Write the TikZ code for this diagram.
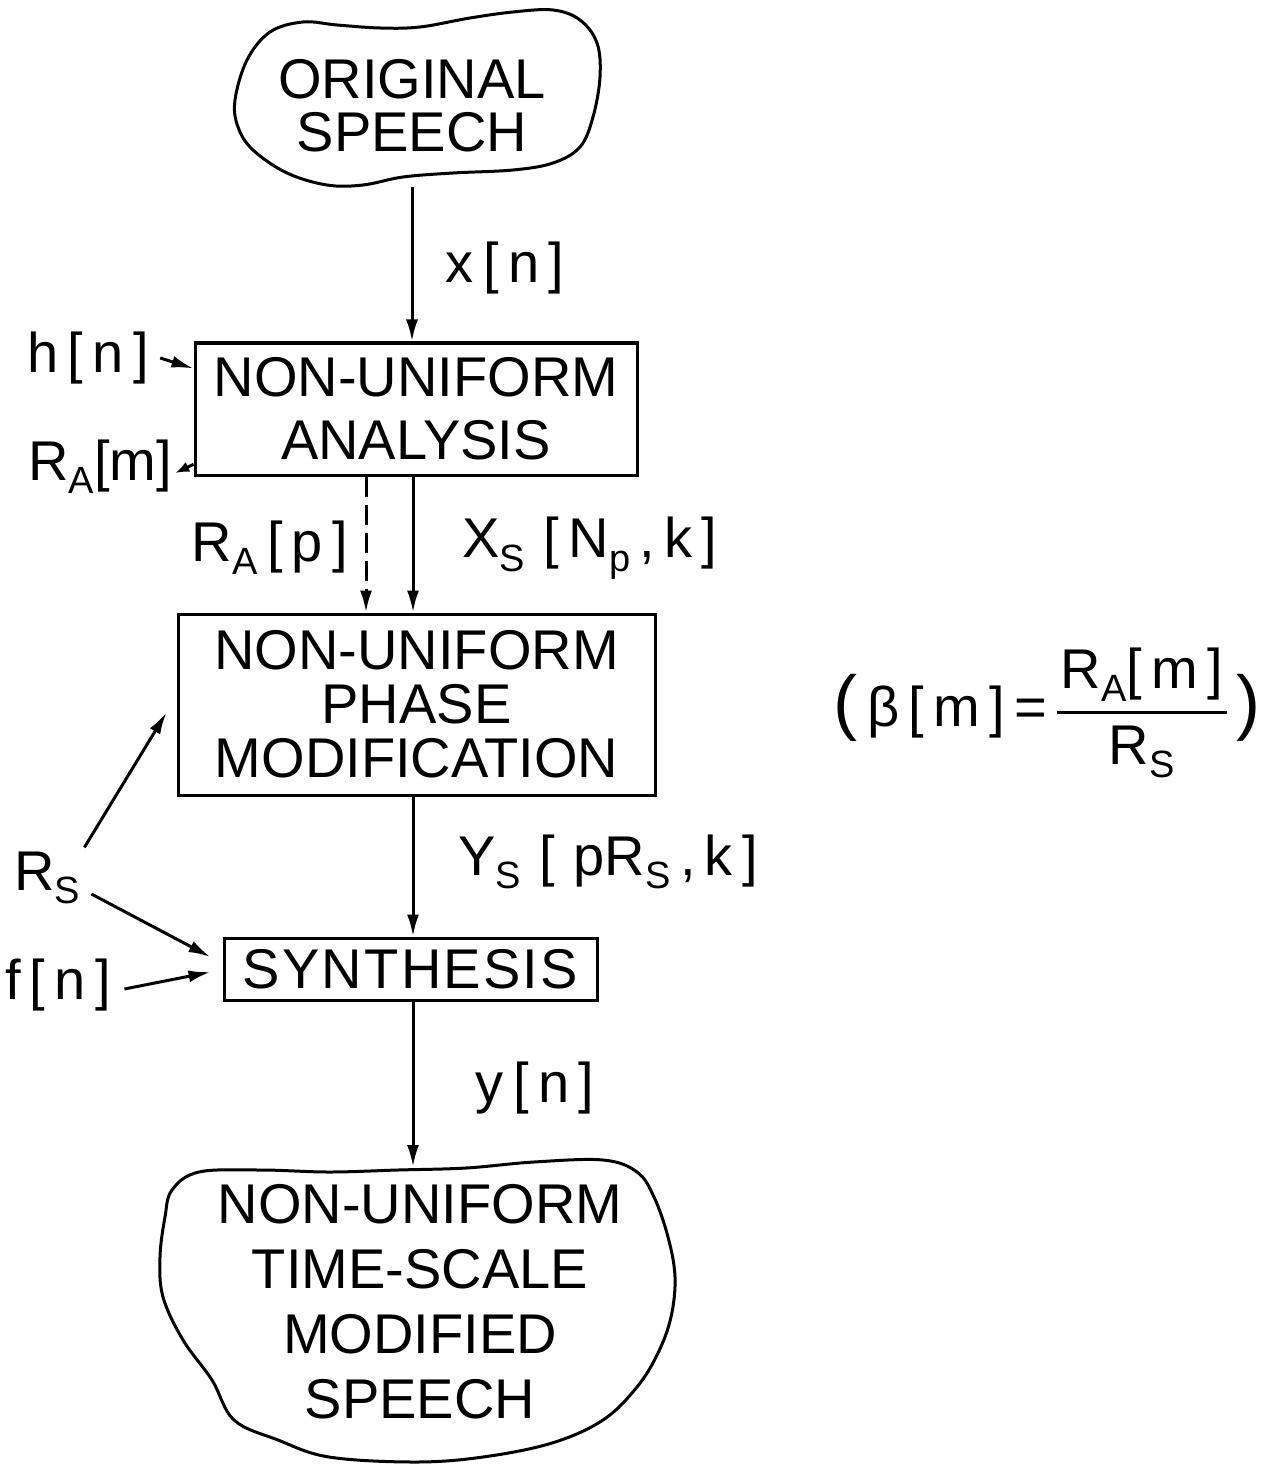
\documentclass[tikz,border=0pt]{standalone}
\usepackage{fontspec}
\setmainfont{Liberation Sans}
\usetikzlibrary{arrows.meta,calc}
\newcommand\lsub[1]{\raisebox{-0.45ex}{\fontsize{19}{19}\selectfont #1}}
\begin{document}
\begin{tikzpicture}[x=0.5pt,y=-0.5pt,line width=1.5pt,
  lbl/.style={font=\fontsize{28}{31}\selectfont, inner sep=0pt},
  blk/.style={draw, line width=1.5pt, align=center, inner sep=0pt},
  txt/.style={align=center, inner sep=0pt},
  arr/.style={-{Latex[length=11pt,width=6pt]}},
  sarr/.style={-{Latex[length=7pt,width=5.5pt]}},
  blob/.style={line width=1.5pt}]
\useasboundingbox (0,0) rectangle (1273,1465);

% top blob
\draw[blob] plot[smooth cycle, tension=0.6] coordinates {
 (235,100) (247,60) (270,32) (303,22) (337,25) (380,28) (420,27) (470,18)
 (513,12) (553,10) (580,20) (597,43) (600,77) (593,117) (580,147) (553,163)
 (513,170) (453,173) (403,177) (363,185) (327,185) (287,173) (253,150) (238,127)};
\node[txt, font=\fontsize{28}{26.5}\selectfont] (orig) at (412,106) {ORIGINAL\\SPEECH};

% bottom blob
\draw[blob] plot[smooth cycle, tension=0.6] coordinates {
 (172,1190) (199,1172) (261,1170) (329,1172) (398,1170) (466,1168) (534,1162)
 (603,1160) (637,1172) (654,1197) (668,1237) (675,1277) (671,1317) (658,1353)
 (637,1387) (603,1420) (552,1443) (483,1457) (415,1462) (329,1457) (278,1440)
 (234,1420) (212,1380) (183,1340) (163,1297) (160,1257) (165,1217)};
\node[txt, font=\fontsize{28}{32.5}\selectfont] (out) at (420,1302)
  {NON-UNIFORM\\TIME-SCALE\\MODIFIED\\SPEECH};

% boxes
\node[blk, font=\fontsize{28}{31.5}\selectfont, minimum width=221pt, minimum height=66pt]
  (ana) at (416,409) {NON-UNIFORM\\ANALYSIS};
\node[blk, font=\fontsize{28}{27}\selectfont, minimum width=238.5pt, minimum height=90.5pt]
  (phase) at (416.5,704.5) {NON-UNIFORM\\PHASE\\MODIFICATION};
\node[blk, font=\fontsize{28}{31}\selectfont\addfontfeatures{LetterSpace=4}, minimum width=186.5pt, minimum height=31pt]
  (syn) at (410.5,969) {SYNTHESIS};

% helper coordinates
\coordinate (origB) at (412,187);
\coordinate (mx) at (413,0);
\coordinate (dx) at (366,0);
\coordinate (outT) at (413,1167);

% labels
\node[lbl] (xn) at (505,268) {x\,[\,n\,]};
\node[lbl] (hn) at (88,358) {h\,[\,n\,]};
\node[lbl] (ram) at (100,467) {R\lsub{A}[m]};
\node[lbl] (rap) at (270,548) {R\lsub{A}\,[\,p\,]};
\node[lbl] (xs) at (590,548) {X\lsub{S}\,\,[\,N\lsub{p}\,,\,k\,]};
\node[lbl] (ys) at (608,862) {Y\lsub{S}\,\,[\,\,pR\lsub{S}\,,\,k\,]};
\node[lbl] (yn) at (535,1088) {y\,[\,n\,]};
\node[lbl] (rs) at (47,878) {R\lsub{S}};
\node[lbl] (fn) at (58,985) {f\,[\,n\,]};
\node[lbl] (beta) at (1047,714) {\setlength{\arrayrulewidth}{1.5pt}\setlength{\tabcolsep}{2pt}%
  {\fontsize{36}{36}\selectfont(}\,β\,[\,m\,]\,=\,$\vcenter{\hbox{\begin{tabular}{c}R\lsub{A}[\,m\,]\\[2pt]\hline\rule{0pt}{25pt}R\lsub{S}\end{tabular}}}$\,{\fontsize{36}{36}\selectfont)}};

% connectors
\draw[arr] (origB) -- (origB |- ana.north);
\draw[arr] ([xshift=5pt]hn.east) -- ($(ana.north west)!0.2!(ana.south west)$);
\draw[sarr] ($(ana.north west)!0.91!(ana.south west)$) -- ([xshift=1pt,yshift=-3pt]ram.east);
\draw[arr, dash pattern=on 10pt off 4pt] (ana.south -| dx) -- (phase.north -| dx);
\draw[arr] (ana.south -| mx) -- (phase.north -| mx);
\draw[arr] (phase.south -| mx) -- (syn.north -| mx);
\draw[arr] (syn.south -| mx) -- (outT);
\draw[arr] ([xshift=1.5pt,yshift=1.5pt]rs.north east) -- ([xshift=-5pt,yshift=-4pt]phase.west);
\draw[arr] ([xshift=5pt,yshift=-8pt]rs.east) -- ([xshift=-6pt,yshift=6pt]syn.west);
\draw[arr] ([xshift=6pt,yshift=-2pt]fn.east) -- ([xshift=-6pt,yshift=-1.5pt]syn.west);
\end{tikzpicture}
\end{document}
